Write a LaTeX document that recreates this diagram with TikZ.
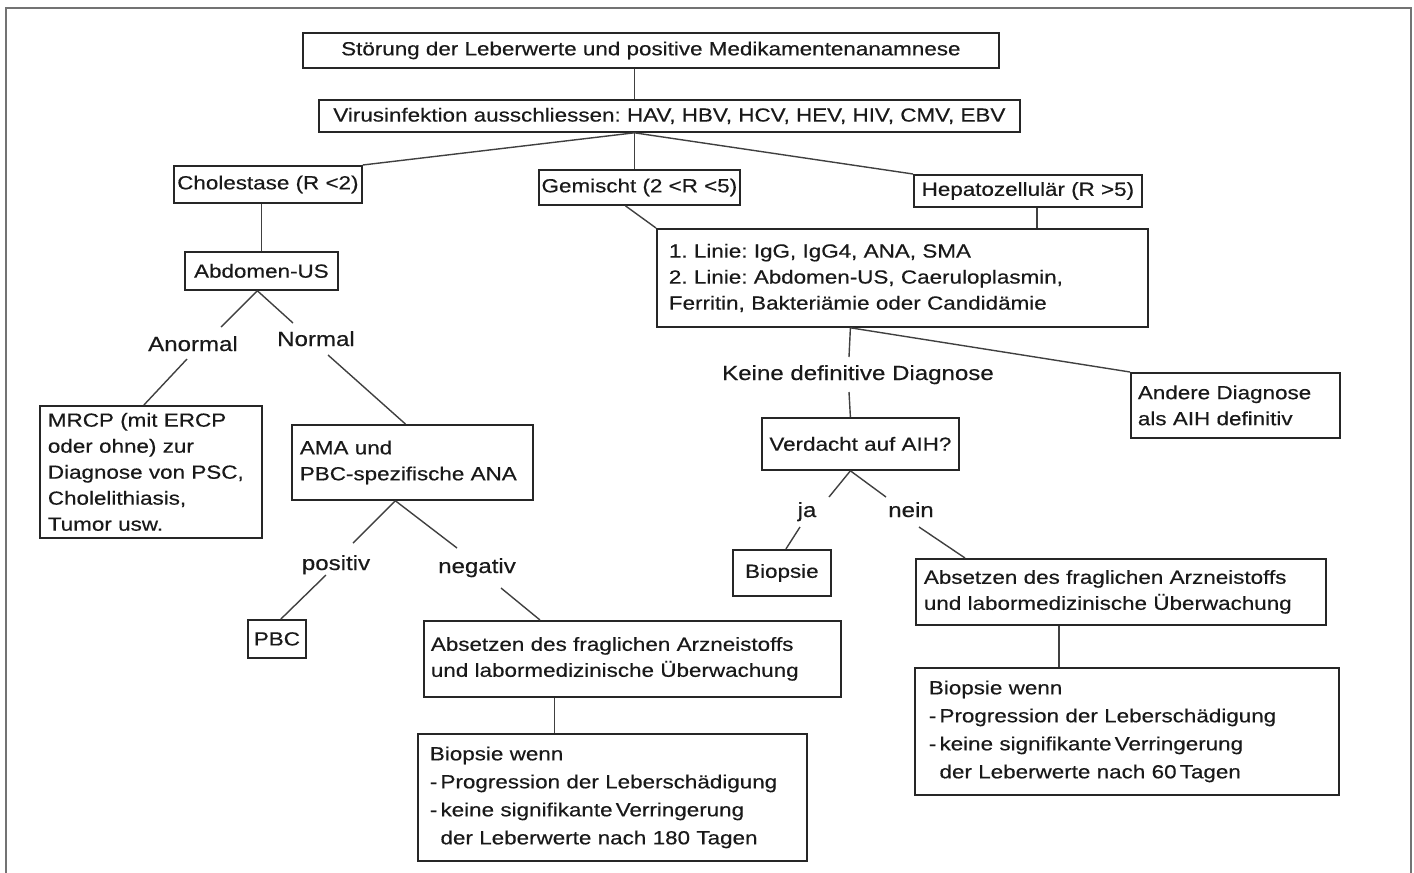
\documentclass[tikz,border=0pt]{standalone}
\usepackage{fontspec}
\setmainfont{Liberation Sans}[FakeStretch=1.18, FakeBold=0.4]
\usepackage{xcolor}
\colorlet{colorBox}{black!85}
\colorlet{colorLink}{black!75}
\colorlet{colorFrame}{black!55}
\colorlet{colorText}{black!90}
\usepackage{tikz}
\frenchspacing
\newcommand{\flowfont}{\fontsize{9.5}{13}\selectfont}
\newcommand{\wennfont}{\fontsize{9.5}{14}\selectfont}
\newcommand{\lblfont}{\fontsize{10.2}{13}\selectfont}
\tikzset{every node/.style={font=\flowfont, text=colorText}}

\begin{document}
\begin{tikzpicture}[x=0.5pt, y=-0.5pt,
  box/.style={draw=colorBox, line width=0.9pt, anchor=north west, inner sep=0pt, align=center},
  tbox/.style={draw=colorBox, line width=0.9pt, anchor=north west, inner ysep=0pt, align=left},
  lbl/.style={anchor=base, inner sep=0pt, font=\lblfont},
  link/.style={draw=colorLink, line width=0.7pt}]
\useasboundingbox (0,0) rectangle (1414,873);
\draw[colorFrame, line width=1pt] (6,873) -- (6,7.5) -- (1411,7.5) -- (1411,873);

\node[box, minimum width=348pt, minimum height=17.5pt] (title) at (302,32) {Störung der Leberwerte und positive Medikamentenanamnese};
\node[box, minimum width=350.5pt, minimum height=16pt] (virus) at (318,99) {Virusinfektion ausschliessen: HAV, HBV, HCV, HEV, HIV, CMV, EBV};
\node[box, minimum width=94pt, minimum height=18.5pt] (chol) at (173,165) {Cholestase (R <2)};
\node[box, minimum width=100.5pt, minimum height=17.5pt] (gem) at (538,169) {Gemischt (2 <R <5)};
\node[box, minimum width=114pt, minimum height=16pt] (hep) at (913,174) {Hepatozellulär (R >5)};
\node[box, minimum width=76.5pt, minimum height=19pt] (abd) at (184,251) {Abdomen-US};
\node[tbox, text width=103pt, inner xsep=4pt, minimum height=66pt] (mrcp) at (39,405) {MRCP (mit ERCP\\oder ohne) zur\\Diagnose von PSC,\\Cholelithiasis,\\Tumor usw.};
\node[tbox, text width=112.5pt, inner xsep=4pt, minimum height=37.5pt] (ama) at (291,424) {AMA und\\PBC-spezifische ANA};
\node[box, minimum width=29pt, minimum height=19pt] (pbc) at (247,619) {PBC};
\node[tbox, text width=201.5pt, inner xsep=3.5pt, minimum height=38pt] (absL) at (423,620) {Absetzen des fraglichen Arzneistoffs\\und labormedizinische Überwachung};
\node[tbox, text width=182.5pt, inner xsep=6pt, minimum height=63.5pt, font=\wennfont] (biopL) at (417,733) {Biopsie wenn\\-\,Progression der Leberschädigung\\-\,keine signifikante\,Verringerung\\\phantom{-\,}der Leberwerte nach 180 Tagen};
\node[tbox, text width=233.5pt, inner xsep=6pt, minimum height=49pt] (lin) at (656,228) {1. Linie: IgG, IgG4, ANA, SMA\\2. Linie: Abdomen-US, Caeruloplasmin,\\Ferritin, Bakteriämie oder Candidämie};
\node[tbox, text width=97.5pt, inner xsep=3.5pt, minimum height=32.5pt] (andere) at (1130,372) {Andere Diagnose\\als AIH definitiv};
\node[box, minimum width=98.5pt, minimum height=26pt] (verd) at (761,417) {Verdacht auf AIH?};
\node[box, minimum width=49pt, minimum height=23pt] (biop) at (732,549) {Biopsie};
\node[tbox, text width=197pt, inner xsep=4pt, minimum height=33pt] (absR) at (915,558) {Absetzen des fraglichen Arzneistoffs\\und labormedizinische Überwachung};
\node[tbox, text width=198pt, inner xsep=7pt, minimum height=63.5pt, font=\wennfont] (biopR) at (914,667) {Biopsie wenn\\-\,Progression der Leberschädigung\\-\,keine signifikante\,Verringerung\\\phantom{-\,}der Leberwerte nach 60\,Tagen};

\node[lbl] (anorm) at (193,351) {Anormal};
\node[lbl] (norm) at (316,346) {Normal};
\node[lbl] (pos) at (336,570) {positiv};
\node[lbl] (neg) at (477,573) {negativ};
\node[lbl] (keine) at (858,380) {Keine definitive Diagnose};
\node[lbl] (ja) at (807,517) {ja};
\node[lbl] (nein) at (911,517) {nein};

\coordinate (fork) at ([shift={(-35,0)}]virus.south);
\draw[link] (fork |- title.south) -- (fork |- virus.north);
\draw[link] (chol.north east) -- (fork) -- (hep.north west);
\draw[link] (fork) -- (fork |- gem.north);

\draw[link] (abd.north |- chol.south) -- (abd.north);
\draw[link] ([shift={(-4,0)}]abd.south) -- ([shift={(28,-24)}]anorm.base);
\draw[link] ([shift={(-4,0)}]abd.south) -- ([shift={(-23,-23)}]norm.base);
\draw[link] ([shift={(-6,8)}]anorm.base) -- ([shift={(-7,0)}]mrcp.north);
\draw[link] ([shift={(12,9)}]norm.base) -- ([shift={(-7,0)}]ama.north);
\draw[link] ([shift={(-17,0)}]ama.south) -- ([shift={(17,-27)}]pos.base);
\draw[link] ([shift={(-17,0)}]ama.south) -- ([shift={(-20,-25)}]neg.base);
\draw[link] ([shift={(-10,5)}]pos.base) -- ([shift={(4,0)}]pbc.north);
\draw[link] ([shift={(24,15)}]neg.base) -- ([shift={(117,0)}]absL.north west);
\coordinate (absLfoot) at ([shift={(-78,0)}]absL.south);
\draw[link] (absLfoot) -- (absLfoot |- biopL.north);

\draw[link] ([shift={(-14,0)}]gem.south) -- (lin.north west);
\coordinate (hepfoot) at ([shift={(9,0)}]hep.south);
\draw[link] (hepfoot) -- (hepfoot |- lin.north);
\coordinate (linfoot) at ([shift={(-52,0)}]lin.south);
\draw[link] (linfoot) -- (andere.north west);
\draw[link] (linfoot) -- ([shift={(-9,-23)}]keine.base);
\draw[link] ([shift={(-9,12)}]keine.base) -- (linfoot |- verd.north);
\draw[link] ([shift={(-10,0)}]verd.south) -- ([shift={(22,-20)}]ja.base);
\draw[link] ([shift={(-10,0)}]verd.south) -- ([shift={(-25,-20)}]nein.base);
\draw[link] ([shift={(-7,10)}]ja.base) -- ([shift={(4,0)}]biop.north);
\draw[link] ([shift={(8,10)}]nein.base) -- ([shift={(50,0)}]absR.north west);
\coordinate (absRfoot) at ([shift={(-62,0)}]absR.south);
\draw[link] (absRfoot) -- (absRfoot |- biopR.north);
\end{tikzpicture}
\end{document}
